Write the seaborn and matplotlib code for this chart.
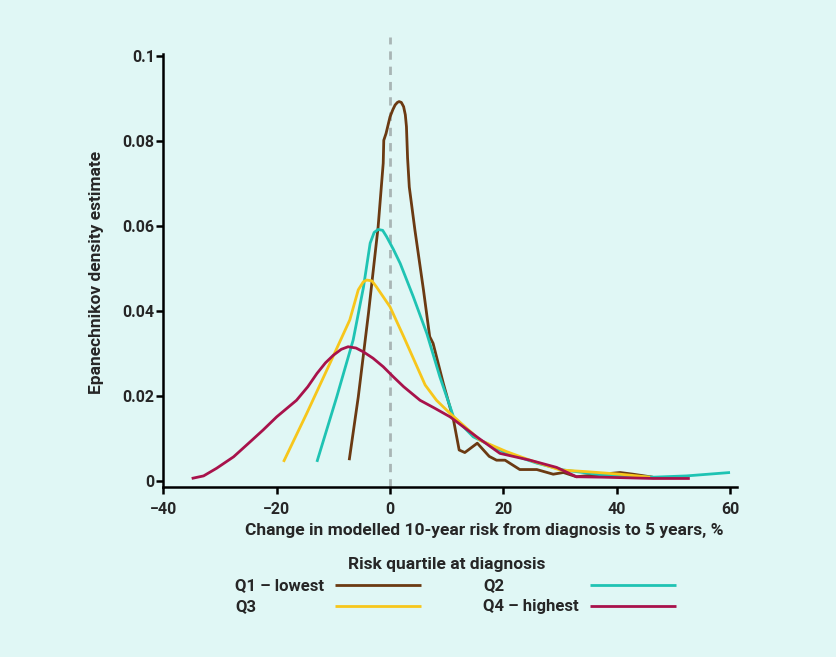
import numpy as np
import pandas as pd
import matplotlib
matplotlib.use("Agg")
import matplotlib.pyplot as plt
from matplotlib.lines import Line2D
import seaborn as sns

# ---- data ----
quartiles = ["Q1 – lowest", "Q2", "Q3", "Q4 – highest"]
colors = ["#6B3A12", "#1FC3B3", "#F7C61B", "#A8124B"]

q1_x = [-7.2, -5.6, -3.8, -2.1, -1.2, -1.1, -0.7, 0.0, 0.5, 0.9, 1.3, 1.6, 2.0, 2.4, 2.7,
        2.9, 3.1, 3.4, 4.4, 5.9, 7.0, 7.6, 9.4, 11.2, 12.2, 13.2, 15.4, 17.5, 18.8, 20.3,
        22.9, 25.9, 28.8, 30.6, 32.9, 35.9, 40.6, 42.9, 46.4]
q1_y = [0.0049, 0.0198, 0.0395, 0.0598, 0.0748, 0.0802, 0.0818, 0.0857, 0.0874, 0.0885,
        0.0891, 0.0893, 0.0891, 0.0881, 0.0862, 0.0834, 0.0760, 0.0692, 0.0590, 0.0450,
        0.0340, 0.0324, 0.0230, 0.0144, 0.0073, 0.0067, 0.0089, 0.0058, 0.0049, 0.0049,
        0.0027, 0.0027, 0.0016, 0.0020, 0.0010, 0.0014, 0.0020, 0.0016, 0.0009]

q2_x = [-12.9, -9.4, -6.5, -4.7, -3.5, -2.8, -2.1, -1.3, -0.6, 0.6, 1.8, 4.1, 6.5, 8.8,
        10.6, 11.2, 14.7, 20.0, 25.9, 30.6, 37.6, 46.4, 52.3, 60.0]
q2_y = [0.0045, 0.0198, 0.0332, 0.0455, 0.0560, 0.0585, 0.0592, 0.0590, 0.0575, 0.0545,
        0.0512, 0.0434, 0.0347, 0.0245, 0.0175, 0.0151, 0.0104, 0.0069, 0.0042, 0.0026,
        0.0014, 0.0009, 0.0012, 0.0020]

q3_x = [-18.8, -14.7, -10.6, -7.1, -5.6, -4.7, -4.1, -3.2, -2.4, 0.0, 2.4, 6.2, 8.2, 10.6,
        15.9, 20.6, 24.7, 30.0, 34.7, 40.6, 45.9]
q3_y = [0.0045, 0.0159, 0.0277, 0.0379, 0.0450, 0.0469, 0.0473, 0.0471, 0.0457, 0.0410,
        0.0340, 0.0226, 0.0190, 0.0159, 0.0096, 0.0069, 0.0049, 0.0026, 0.0022, 0.0016,
        0.0009]

q4_x = [-35.0, -32.9, -30.6, -27.6, -24.7, -22.4, -20.0, -16.5, -14.5, -12.9, -11.4, -10.0,
        -8.6, -7.4, -6.0, -4.7, -3.0, -1.2, 0.6, 2.4, 5.3, 7.8, 10.6, 13.0, 15.3, 19.4,
        24.7, 29.4, 32.9, 37.6, 46.4, 52.9]
q4_y = [0.0006, 0.0012, 0.0030, 0.0057, 0.0092, 0.0120, 0.0151, 0.0190, 0.0222, 0.0253,
        0.0278, 0.0296, 0.0310, 0.0316, 0.0313, 0.0304, 0.0289, 0.0269, 0.0245, 0.0222,
        0.0190, 0.0172, 0.0151, 0.0127, 0.0104, 0.0065, 0.0049, 0.0032, 0.0010, 0.0009,
        0.0006, 0.0006]

x_ticks = [-40, -20, 0, 20, 40, 60]
x_ticklabels = ["\u221240", "\u221220", "0", "20", "40", "60"]
y_ticks = [0, 0.02, 0.04, 0.06, 0.08, 0.1]
y_ticklabels = ["0", "0.02", "0.04", "0.06", "0.08", "0.1"]

xs = [q1_x, q2_x, q3_x, q4_x]
ys = [q1_y, q2_y, q3_y, q4_y]
frames = []
for q, x, y in zip(quartiles, xs, ys):
    frames.append(pd.DataFrame({"x": x, "y": y, "quartile": q}))
df = pd.concat(frames, ignore_index=True)

# ---- styling ----
bg = "#E0F7F5"
sns.set_theme(style="white")
plt.rcParams["font.family"] = ["Roboto", "DejaVu Sans"]

W, H = 837, 657
fig = plt.figure(figsize=(W / 100, H / 100), dpi=100, facecolor=bg)
ax = fig.add_axes([163 / W, 1 - 487 / H, (737 - 163) / W, (487 - 37) / H])
ax.set_facecolor(bg)

ax.axvline(0, color="#A9B5B5", lw=2, ls=(0, (3, 2.5)), zorder=1)

sns.lineplot(data=df, x="x", y="y", hue="quartile", hue_order=quartiles,
             palette=colors, sort=False, estimator=None, units="quartile",
             lw=2, legend=False, ax=ax, zorder=3)
for l in ax.lines:
    l.set_solid_capstyle("butt")
    l.set_solid_joinstyle("round")

ax.set_xlim(-40.06, 61.23)
ax.set_ylim(-0.00141, 0.1045)
ax.set_xticks(x_ticks)
ax.set_xticklabels(x_ticklabels)
ax.set_yticks(y_ticks)
ax.set_yticklabels(y_ticklabels)

for s in ["top", "right"]:
    ax.spines[s].set_visible(False)
for s in ["left", "bottom"]:
    ax.spines[s].set_color("black")
    ax.spines[s].set_linewidth(1.8)
ax.spines["left"].set_bounds(-0.00141, 0.1006)

ax.tick_params(axis="both", which="major", direction="out", length=5, width=1.8,
               color="black", labelsize=11.5, bottom=True, left=True)
ax.tick_params(axis="x", pad=6)
ax.tick_params(axis="y", pad=1)
for t in ax.get_xticklabels() + ax.get_yticklabels():
    t.set_fontweight("bold")

ax.set_xlabel("")
ax.set_ylabel("")
fs = 12.5
fig.text(484 / W, 1 - 531 / H, "Change in modelled 10-year risk from diagnosis to 5 years, %",
         ha="center", va="center", fontsize=fs, fontweight="bold")
fig.text(97 / W, 1 - 272 / H, "Epanechnikov density estimate", rotation=90,
         ha="center", va="center", fontsize=fs, fontweight="bold")

# ---- legend (manual layout) ----
fig.text(447 / W, 1 - 565 / H, "Risk quartile at diagnosis", ha="center", va="center",
         fontsize=fs, fontweight="bold")
leg_pos = [(235, 586, 335, 421), (483, 586, 590, 676),
           (235, 607, 335, 421), (483, 607, 590, 676)]
for q, c, (tx, ty, lx0, lx1) in zip(quartiles, colors, leg_pos):
    fig.text(tx / W, 1 - ty / H, q, ha="left", va="center", fontsize=12,
             fontweight="bold")
    fig.add_artist(Line2D([lx0 / W, lx1 / W], [1 - (ty - 1) / H, 1 - (ty - 1) / H],
                          color=c, lw=2, solid_capstyle="butt",
                          transform=fig.transFigure))

fig.savefig("out.png", dpi=100, facecolor=bg)
